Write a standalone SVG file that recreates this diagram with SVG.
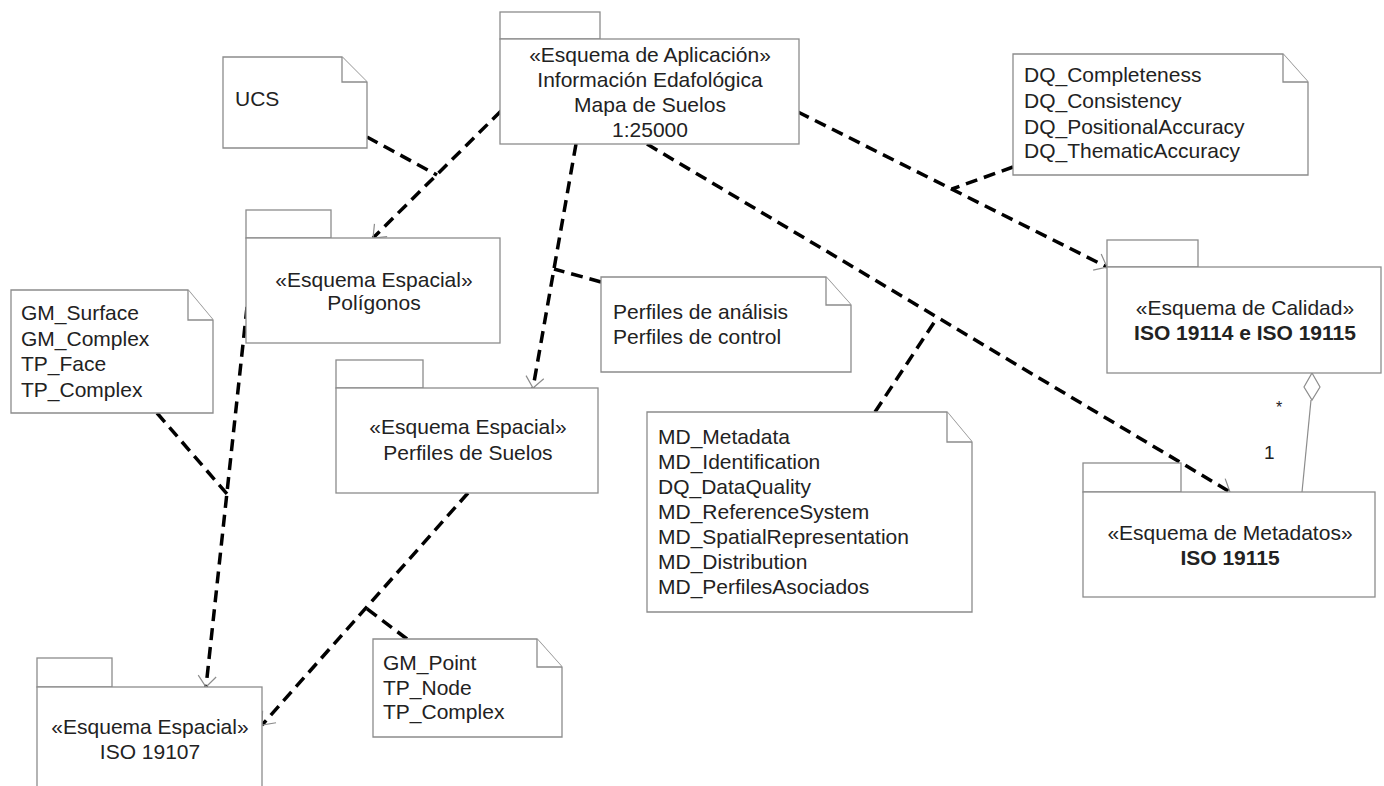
<svg xmlns="http://www.w3.org/2000/svg" width="1384" height="786" viewBox="0 0 1384 786">
<style>
.box{fill:#fff;stroke:#8c8c8c;stroke-width:1.3}
.t{font-family:"Liberation Sans",Arial,sans-serif;font-size:21px;fill:#222}
.c{text-anchor:middle}
.b{font-weight:bold}
.dep{fill:none;stroke:#000;stroke-width:3.5;stroke-dasharray:12 7}
.agg{fill:none;stroke:#8c8c8c;stroke-width:1.2}
</style>
<defs>
<marker id="open" markerUnits="userSpaceOnUse" orient="auto" refX="0" refY="0" markerWidth="30" markerHeight="30" viewBox="-15 -15 30 30" overflow="visible">
<path d="M-11,-9 L0,0 L-11,9" fill="none" stroke="#8c8c8c" stroke-width="1.2" stroke-dasharray="none"/>
</marker>
</defs>
<rect width="1384" height="786" fill="#fff"/>

<g id="connectors">
<path class="dep" d="M501,111 L373,238" marker-end="url(#open)"/>
<path class="dep" d="M367,137 L437,175"/>
<path class="dep" d="M576,144 L533,388" marker-end="url(#open)"/>
<path class="dep" d="M601,282 L554,269"/>
<path class="dep" d="M647,144 L1230,492" marker-end="url(#open)"/>
<path class="dep" d="M875,412 L937,318"/>
<path class="dep" d="M798,112 L1107,267" marker-end="url(#open)"/>
<path class="dep" d="M1013,167 L952,189"/>
<path class="dep" d="M247,307 L206,687" marker-end="url(#open)"/>
<path class="dep" d="M157,413 L227,494"/>
<path class="dep" d="M468,493 L262,725" marker-end="url(#open)"/>
<path class="dep" d="M407,639 L366,608"/>
<path class="agg" d="M1311,400 L1302,492"/>
<path class="agg" d="M1312,373 L1320,387 L1312,400 L1304,387 Z" fill="#fff"/>
<text class="t" x="1276" y="413" style="font-size:16px">*</text>
<text class="t" x="1264" y="459" style="font-size:19px">1</text>
</g>

<g id="app">
<rect class="box" x="500" y="12" width="100" height="27"/>
<rect class="box" x="500" y="39" width="299" height="105"/>
<text class="t c" x="650" y="62">«Esquema de Aplicación»</text>
<text class="t c" x="650" y="87">Información Edafológica</text>
<text class="t c" x="650" y="112">Mapa de Suelos</text>
<text class="t c" x="650" y="137">1:25000</text>
</g>

<g id="poligonos">
<rect class="box" x="246" y="210" width="85" height="28"/>
<rect class="box" x="246" y="238" width="254" height="105"/>
<text class="t c" x="374" y="287">«Esquema Espacial»</text>
<text class="t c" x="374" y="310">Polígonos</text>
</g>

<g id="perfiles">
<rect class="box" x="336" y="360" width="87" height="28"/>
<rect class="box" x="336" y="388" width="262" height="105"/>
<text class="t c" x="468" y="434">«Esquema Espacial»</text>
<text class="t c" x="468" y="460">Perfiles de Suelos</text>
</g>

<g id="iso19107">
<rect class="box" x="37" y="658" width="75" height="29"/>
<rect class="box" x="37" y="687" width="225" height="110"/>
<text class="t c" x="150" y="734">«Esquema Espacial»</text>
<text class="t c" x="150" y="759">ISO 19107</text>
</g>

<g id="calidad">
<rect class="box" x="1107" y="240" width="91" height="27"/>
<rect class="box" x="1107" y="267" width="274" height="106"/>
<text class="t c" x="1245" y="315">«Esquema de Calidad»</text>
<text class="t c b" x="1245" y="340">ISO 19114 e ISO 19115</text>
</g>

<g id="metadatos">
<rect class="box" x="1083" y="463" width="98" height="29"/>
<rect class="box" x="1083" y="492" width="292" height="105"/>
<text class="t c" x="1230" y="540">«Esquema de Metadatos»</text>
<text class="t c b" x="1230" y="565">ISO 19115</text>
</g>

<g id="note-ucs">
<path class="box" d="M223,57 H342 L367,82 V148 H223 Z"/>
<path class="box" d="M342,57 V82 H367" fill="none"/>
<text class="t" x="235" y="106">UCS</text>
</g>

<g id="note-gm-surface">
<path class="box" d="M11,290 H188 L213,320 V413 H11 Z"/>
<path class="box" d="M188,290 V320 H213" fill="none"/>
<text class="t" x="21" y="320">GM_Surface</text>
<text class="t" x="21" y="346">GM_Complex</text>
<text class="t" x="21" y="371">TP_Face</text>
<text class="t" x="21" y="397">TP_Complex</text>
</g>

<g id="note-perfiles">
<path class="box" d="M601,277 H826 L851,305 V372 H601 Z"/>
<path class="box" d="M826,277 V305 H851" fill="none"/>
<text class="t" x="613" y="319">Perfiles de análisis</text>
<text class="t" x="613" y="344">Perfiles de control</text>
</g>

<g id="note-gm-point">
<path class="box" d="M373,639 H537 L562,667 V737 H373 Z"/>
<path class="box" d="M537,639 V667 H562" fill="none"/>
<text class="t" x="383" y="670">GM_Point</text>
<text class="t" x="383" y="695">TP_Node</text>
<text class="t" x="383" y="719">TP_Complex</text>
</g>

<g id="note-md">
<path class="box" d="M647,412 H947 L972,442 V612 H647 Z"/>
<path class="box" d="M947,412 V442 H972" fill="none"/>
<text class="t" x="658" y="444">MD_Metadata</text>
<text class="t" x="658" y="469">MD_Identification</text>
<text class="t" x="658" y="494">DQ_DataQuality</text>
<text class="t" x="658" y="519">MD_ReferenceSystem</text>
<text class="t" x="658" y="544">MD_SpatialRepresentation</text>
<text class="t" x="658" y="569">MD_Distribution</text>
<text class="t" x="658" y="594">MD_PerfilesAsociados</text>
</g>

<g id="note-dq">
<path class="box" d="M1013,54 H1283 L1308,82 V175 H1013 Z"/>
<path class="box" d="M1283,54 V82 H1308" fill="none"/>
<text class="t" x="1024" y="82">DQ_Completeness</text>
<text class="t" x="1024" y="108">DQ_Consistency</text>
<text class="t" x="1024" y="134">DQ_PositionalAccuracy</text>
<text class="t" x="1024" y="158">DQ_ThematicAccuracy</text>
</g>
</svg>
